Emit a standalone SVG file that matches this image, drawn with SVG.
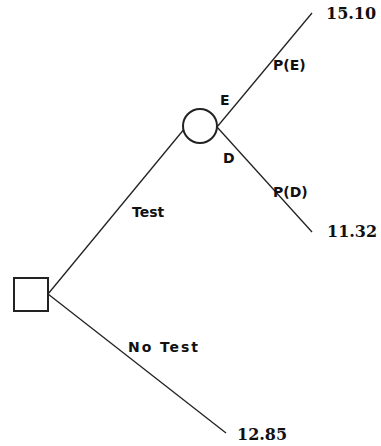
<svg xmlns="http://www.w3.org/2000/svg" width="381" height="446" viewBox="0 0 381 446">
<style>
.ln{stroke:#222;stroke-width:1.3;fill:none}
.nd{stroke:#222;stroke-width:2;fill:#fff}
.lb{font-family:"DejaVu Sans",Verdana,sans-serif;font-weight:bold;font-size:14px;fill:#111}
.vl{font-family:"DejaVu Serif","Liberation Serif",serif;font-weight:bold;font-size:16px;fill:#111}
</style>
<rect width="381" height="446" fill="#fff"/>
<g id="connectors">
<line class="ln" x1="48" y1="294" x2="185" y2="128"/>
<line class="ln" x1="48" y1="294" x2="226" y2="433"/>
<line class="ln" x1="217" y1="127" x2="312" y2="13"/>
<line class="ln" x1="217" y1="127" x2="312" y2="232"/>
</g>
<g id="decision"><rect class="nd" x="14" y="278" width="34" height="33"/></g>
<g id="chance"><circle class="nd" cx="200" cy="126" r="17"/></g>
<g id="labels">
<text class="lb" x="132" y="217">Test</text>
<text class="lb" x="128" y="352" textLength="70" lengthAdjust="spacing">No Test</text>
<text class="lb" x="220" y="105">E</text>
<text class="lb" x="223" y="163">D</text>
<text class="lb" x="273" y="70">P(E)</text>
<text class="lb" x="273" y="197">P(D)</text>
</g>
<g id="values">
<text class="vl" x="326" y="19">15.10</text>
<text class="vl" x="327" y="237">11.32</text>
<text class="vl" x="237" y="440">12.85</text>
</g>
</svg>
